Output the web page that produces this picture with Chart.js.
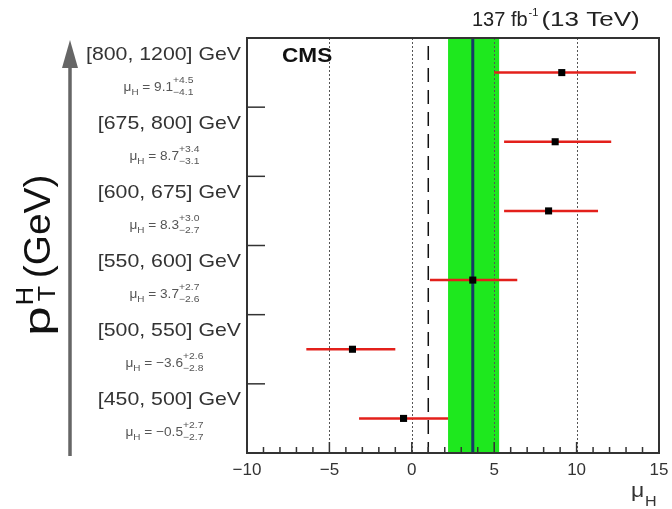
<!DOCTYPE html>
<html>
<head>
<meta charset="utf-8">
<script src="https://cdn.jsdelivr.net/npm/chart.js@4"></script>
<style>
  body { margin: 0; background: #fff; }
  #wrap { width: 672px; height: 509px; }
</style>
</head>
<body>
<div id="wrap"><canvas id="muChart" width="672" height="509"></canvas></div>
<script>
// pT bins, top to bottom
const categories = ['[800, 1200] GeV', '[675, 800] GeV', '[600, 675] GeV', '[550, 600] GeV', '[500, 550] GeV', '[450, 500] GeV'];
const muValues = [9.1, 8.7, 8.3, 3.7, -3.6, -0.5];
const errUp = [4.5, 3.4, 3.0, 2.7, 2.6, 2.7];
const errDown = [4.1, 3.1, 2.7, 2.6, 2.8, 2.7];
const xTicks = [-10, -5, 0, 5, 10, 15];

// combined fit and SM reference
const combinedMu = 3.7;
const combinedBand = [2.2, 5.3];
const smValue = 1.0;

const FONT = '"Liberation Sans", Arial, Helvetica, sans-serif';

const points = muValues.map((v, i) => ({ x: v, y: categories.length - 0.5 - i }));

function fmt(v) {
    return String(v).replace('-', '\u2212');
}

// text squeezed/stretched horizontally, returns drawn width
function txt(ctx, s, x, y, font, align, sx) {
    ctx.save();
    ctx.font = font;
    const w = ctx.measureText(s).width * sx;
    const x0 = align === 'right' ? x - w : align === 'center' ? x - w / 2 : x;
    ctx.translate(x0, y);
    ctx.scale(sx, 1);
    ctx.textAlign = 'left';
    ctx.fillText(s, 0, 0);
    ctx.restore();
    return w;
}

const overlayPlugin = {
    id: 'overlay',
    beforeDatasetsDraw(chart) {
        const { ctx, chartArea: a, scales: { x, y } } = chart;
        ctx.save();
        // green band
        const b0 = x.getPixelForValue(combinedBand[0]);
        const b1 = x.getPixelForValue(combinedBand[1]);
        ctx.fillStyle = '#1ee81e';
        ctx.fillRect(b0, a.top, b1 - b0, a.bottom - a.top);
        // dotted grid
        ctx.strokeStyle = '#555';
        ctx.lineWidth = 1;
        ctx.setLineDash([2, 2]);
        [-5, 0, 5, 10].forEach(t => {
            const px = Math.round(x.getPixelForValue(t)) + 0.5;
            ctx.beginPath();
            ctx.moveTo(px, a.top);
            ctx.lineTo(px, a.bottom);
            ctx.stroke();
        });
        // SM dashed line
        ctx.strokeStyle = '#111';
        ctx.lineWidth = 1.5;
        ctx.setLineDash([14, 8]);
        const sm = x.getPixelForValue(smValue);
        ctx.beginPath();
        ctx.moveTo(sm, a.top + 8);
        ctx.lineTo(sm, a.bottom);
        ctx.stroke();
        ctx.setLineDash([]);
        // combined central line
        const c = x.getPixelForValue(combinedMu);
        ctx.strokeStyle = '#163b66';
        ctx.lineWidth = 3;
        ctx.beginPath();
        ctx.moveTo(c, a.top);
        ctx.lineTo(c, a.bottom);
        ctx.stroke();
        // error bars
        ctx.strokeStyle = '#e3201b';
        ctx.lineWidth = 2.5;
        muValues.forEach((v, i) => {
            const py = y.getPixelForValue(points[i].y);
            ctx.beginPath();
            ctx.moveTo(x.getPixelForValue(v - errDown[i]), py);
            ctx.lineTo(x.getPixelForValue(v + errUp[i]), py);
            ctx.stroke();
        });
        ctx.restore();
    },
    afterDraw(chart) {
        const { ctx, chartArea: a, scales: { x, y } } = chart;
        ctx.save();
        // frame
        ctx.strokeStyle = '#333';
        ctx.lineWidth = 2;
        ctx.strokeRect(a.left, a.top, a.right - a.left, a.bottom - a.top);
        // x ticks inside
        ctx.lineWidth = 1.5;
        for (let t = -10; t <= 15; t++) {
            const px = x.getPixelForValue(t);
            const len = t % 5 === 0 ? 11 : 6;
            ctx.beginPath();
            ctx.moveTo(px, a.bottom);
            ctx.lineTo(px, a.bottom - len);
            ctx.stroke();
        }
        // y ticks at bin edges
        for (let k = 1; k < categories.length; k++) {
            const py = y.getPixelForValue(k);
            ctx.beginPath();
            ctx.moveTo(a.left, py);
            ctx.lineTo(a.left + 18, py);
            ctx.stroke();
        }
        // bin labels
        categories.forEach((cat, i) => {
            const py = y.getPixelForValue(points[i].y);
            ctx.fillStyle = '#333';
            const w = txt(ctx, cat, a.left - 6, py - 13, '19px ' + FONT, 'right', 1.12);
            const cx = a.left - 6 - w / 2 - 5;
            drawMuLabel(ctx, cx, py + 18, muValues[i], errUp[i], errDown[i]);
        });
        // CMS and lumi
        ctx.fillStyle = '#111';
        txt(ctx, 'CMS', 282, 62, 'bold 20px ' + FONT, 'left', 1.13);
        ctx.fillStyle = '#222';
        let tx = 472;
        tx += txt(ctx, '137 fb', tx, 26, '20px ' + FONT, 'left', 1.0);
        tx += txt(ctx, '-1', tx + 1, 16, '11px ' + FONT, 'left', 1.0) + 4;
        txt(ctx, '(13 TeV)', tx, 26, '20px ' + FONT, 'left', 1.3);
        // x title
        ctx.fillStyle = '#333';
        txt(ctx, '\u03bc', 631, 497, '20px ' + FONT, 'left', 1.15);
        txt(ctx, 'H', 645, 506, '14px ' + FONT, 'left', 1.15);
        // arrow
        ctx.strokeStyle = '#666';
        ctx.fillStyle = '#666';
        ctx.lineWidth = 3.5;
        ctx.beginPath();
        ctx.moveTo(70, 456);
        ctx.lineTo(70, 60);
        ctx.stroke();
        ctx.beginPath();
        ctx.moveTo(70, 40);
        ctx.lineTo(62, 68);
        ctx.lineTo(78, 68);
        ctx.closePath();
        ctx.fill();
        // y title (rotated, text direction = up)
        ctx.translate(50, 336);
        ctx.rotate(-Math.PI / 2);
        ctx.fillStyle = '#111';
        let yx = 0;
        yx += txt(ctx, 'p', yx, 0, '37px ' + FONT, 'left', 1.45);
        txt(ctx, 'H', yx + 1, -17, '23px ' + FONT, 'left', 1.1);
        txt(ctx, 'T', yx + 5, 5, '23px ' + FONT, 'left', 1.1);
        yx += 28;
        txt(ctx, '(GeV)', yx, 0, '37px ' + FONT, 'left', 1.05);
        ctx.restore();
    }
};

function drawMuLabel(ctx, cx, py, v, up, down) {
    ctx.save();
    ctx.fillStyle = '#555';
    const f = s => s + ' ' + FONT;
    const upTxt = '+' + up.toFixed(1), dnTxt = '\u2212' + down.toFixed(1);
    ctx.font = f('13px');
    const wMu = ctx.measureText('\u03bc').width * 1.05;
    const wEq = ctx.measureText(' = ' + fmt(v)).width * 1.05;
    ctx.font = f('9px');
    const wH = ctx.measureText('H').width * 1.1;
    const wS = Math.max(ctx.measureText(upTxt).width, ctx.measureText(dnTxt).width) * 1.15;
    let px = cx - (wMu + wH + wEq + wS) / 2;
    px += txt(ctx, '\u03bc', px, py, f('13px'), 'left', 1.05);
    px += txt(ctx, 'H', px, py + 4, f('9px'), 'left', 1.1);
    px += txt(ctx, ' = ' + fmt(v), px, py, f('13px'), 'left', 1.05);
    txt(ctx, upTxt, px, py - 8, f('9px'), 'left', 1.15);
    txt(ctx, dnTxt, px, py + 4, f('9px'), 'left', 1.15);
    ctx.restore();
}

new Chart(document.getElementById('muChart').getContext('2d'), {
    type: 'scatter',
    data: {
        datasets: [{
            data: points,
            pointStyle: 'rect',
            pointRadius: 5,
            pointHoverRadius: 5,
            backgroundColor: '#000',
            borderColor: '#000',
            borderWidth: 0
        }]
    },
    options: {
        responsive: false,
        animation: false,
        layout: { padding: { left: 0, right: 13, top: 38, bottom: 0 } },
        plugins: { legend: { display: false }, tooltip: { enabled: false } },
        scales: {
            x: {
                type: 'linear',
                min: xTicks[0],
                max: xTicks[xTicks.length - 1],
                afterBuildTicks: s => { s.ticks = xTicks.map(v => ({ value: v })); },
                afterFit: s => { s.height = 56; },
                grid: { display: false },
                border: { display: false },
                ticks: {
                    color: '#333',
                    font: { size: 17, family: FONT },
                    padding: -1,
                    callback: v => fmt(v)
                }
            },
            y: {
                type: 'linear',
                min: 0,
                max: categories.length,
                afterFit: s => { s.width = 247; },
                grid: { display: false },
                border: { display: false },
                ticks: { display: false }
            }
        }
    },
    plugins: [overlayPlugin]
});
</script>
</body>
</html>
